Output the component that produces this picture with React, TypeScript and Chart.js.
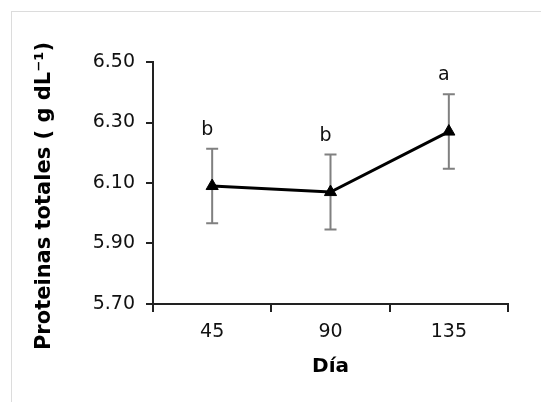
import React, { useEffect, useRef } from "react";
import { Chart, registerables } from "chart.js";

Chart.register(...registerables);

const days = ["45", "90", "135"];
const means = [6.09, 6.07, 6.27];
const errors = [0.123, 0.124, 0.123];
const letters = ["b", "b", "a"];
const yTitle = "Proteinas totales ( g dL⁻¹)";
const xTitle = "Día";

const FONT = "'DejaVu Sans', Verdana, sans-serif";

export default function App() {
  const ref = useRef<HTMLCanvasElement | null>(null);

  useEffect(() => {
    const canvas = ref.current;
    if (!canvas) return;

    const extrasPlugin = {
      id: "extras",
      beforeDatasetsDraw(chart: any) {
        const ctx = chart.ctx;
        const xs = chart.scales.x;
        const ys = chart.scales.y;
        ctx.save();
        ctx.strokeStyle = "#808080";
        ctx.lineWidth = 2;
        means.forEach((m, i) => {
          const x = xs.getPixelForValue(i);
          const yt = ys.getPixelForValue(m + errors[i]);
          const yb = ys.getPixelForValue(m - errors[i]);
          ctx.beginPath();
          ctx.moveTo(x, yt);
          ctx.lineTo(x, yb);
          ctx.moveTo(x - 6, yt);
          ctx.lineTo(x + 6, yt);
          ctx.moveTo(x - 6, yb);
          ctx.lineTo(x + 6, yb);
          ctx.stroke();
        });
        ctx.restore();
      },
      afterDatasetsDraw(chart: any) {
        const ctx = chart.ctx;
        const xs = chart.scales.x;
        const ys = chart.scales.y;
        ctx.save();
        ctx.fillStyle = "#111";
        ctx.font = `19px ${FONT}`;
        ctx.textAlign = "center";
        ctx.textBaseline = "alphabetic";
        letters.forEach((l, i) => {
          const x = xs.getPixelForValue(i) - 5;
          const y = ys.getPixelForValue(means[i] + errors[i]) - 14;
          ctx.fillText(l, x, y);
        });
        // y axis title
        ctx.translate(45, 196);
        ctx.rotate(-Math.PI / 2);
        ctx.font = `bold 21px ${FONT}`;
        ctx.textBaseline = "middle";
        ctx.fillStyle = "#000";
        ctx.fillText(yTitle, 0, 0);
        ctx.restore();
      },
    };

    const chart = new Chart(canvas, {
      type: "line",
      data: {
        labels: days,
        datasets: [
          {
            data: means,
            borderColor: "#000",
            borderWidth: 3,
            backgroundColor: "#000",
            pointStyle: "triangle",
            pointRadius: 7,
            pointBackgroundColor: "#000",
            pointBorderColor: "#000",
            pointBorderWidth: 1,
            tension: 0,
          },
        ],
      },
      options: {
        responsive: false,
        animation: false,
        layout: { padding: { left: 0, right: 33, top: 62, bottom: 0 } },
        plugins: {
          legend: { display: false },
          tooltip: { enabled: false },
        },
        scales: {
          x: {
            type: "category",
            offset: true,
            grid: {
              offset: true,
              drawOnChartArea: false,
              drawTicks: true,
              tickLength: 8,
              color: "#222",
              lineWidth: 2,
            },
            border: { color: "#222", width: 2 },
            ticks: {
              color: "#111",
              font: { family: FONT, size: 19 },
              padding: 9,
            },
            title: {
              display: true,
              text: xTitle,
              color: "#000",
              font: { family: FONT, size: 20, weight: "bold" },
              padding: { top: 0, bottom: 23 },
            },
            afterFit(scale: any) {
              scale.height = 98;
            },
          },
          y: {
            min: 5.7,
            max: 6.5,
            grid: {
              drawOnChartArea: false,
              drawTicks: true,
              tickLength: 7,
              color: "#222",
              lineWidth: 2,
            },
            border: { color: "#222", width: 2 },
            ticks: {
              stepSize: 0.2,
              color: "#111",
              font: { family: FONT, size: 19 },
              padding: 11,
              callback: (v: any) => Number(v).toFixed(2),
            },
            afterFit(scale: any) {
              scale.width = 153;
            },
          },
        },
      },
      plugins: [extrasPlugin],
    });

    return () => chart.destroy();
  }, []);

  return (
    <div style={{ position: "fixed", left: 0, top: 0, width: 541, height: 402, background: "#fff" }}>
      <div
        style={{
          position: "absolute",
          left: 11,
          top: 11,
          right: 0,
          bottom: 0,
          borderLeft: "1px solid #dcdcdc",
          borderTop: "1px solid #dcdcdc",
        }}
      />
      <canvas ref={ref} width={541} height={402} style={{ position: "absolute", left: 0, top: 0 }} />
    </div>
  );
}
